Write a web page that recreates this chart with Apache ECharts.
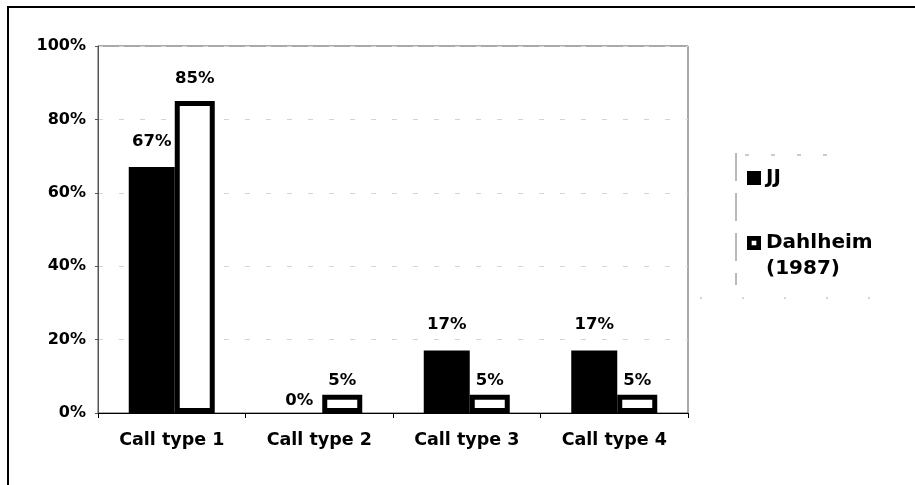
<!DOCTYPE html>
<html>
<head>
<meta charset="utf-8">
<script src="https://cdn.jsdelivr.net/npm/echarts@6/dist/echarts.min.js"></script>
<style>
html,body{margin:0;padding:0;background:#fff;}
#c{width:915px;height:485px;}
</style>
</head>
<body>
<div id="c"></div>
<script>
const categories = ['Call type 1', 'Call type 2', 'Call type 3', 'Call type 4'];
const jjValues = [67, 0, 17, 17];
const dahlheimValues = [85, 5, 5, 5];
const seriesNames = ['JJ', 'Dahlheim (1987)'];
const yTicks = { min: 0, max: 100, interval: 20 };

const FONT = '"DejaVu Sans", Verdana, sans-serif';
const chart = echarts.init(document.getElementById('c'), null, { renderer: 'canvas' });

function labelFor(big, small) {
  return function (v) {
    return {
      show: true, position: 'top', distance: v >= 10 ? big : small,
      formatter: '{c}%', fontFamily: FONT, fontWeight: 'bold', fontSize: 16.5, color: '#000'
    };
  };
}
const jjLabel = labelFor(17, 4);
const dhLabel = labelFor(14, 5);

const legendText = { fontFamily: FONT, fontWeight: 'bold', fontSize: 20, color: '#000' };

chart.setOption({
  backgroundColor: '#fff',
  animation: false,
  grid: {
    left: 98, right: 227, top: 46, bottom: 72,
    show: true, borderColor: '#555', borderWidth: 1, backgroundColor: 'transparent'
  },
  legend: [
    {
      orient: 'vertical', left: 742, top: 163,
      itemWidth: 14, itemHeight: 14, itemGap: 10, icon: 'rect',
      data: [seriesNames[0]],
      textStyle: legendText
    },
    {
      orient: 'vertical', left: 742, top: 199,
      itemWidth: 14, itemHeight: 14, itemGap: 10,
      data: [{
        name: seriesNames[1],
        icon: 'path://M0,0L15,0L15,15L0,15Z M5,5L5,10L10,10L10,5Z',
        itemStyle: { color: '#000', borderWidth: 0 }
      }],
      formatter: function (n) { return '\n' + n.replace(' ', '\n'); },
      textStyle: Object.assign({}, legendText, { lineHeight: 26 })
    }
  ],
  xAxis: {
    type: 'category',
    data: categories,
    axisLine: { lineStyle: { color: '#000', width: 1 } },
    axisTick: { show: true, length: 5, lineStyle: { color: '#000' } },
    axisLabel: { fontFamily: FONT, fontWeight: 'bold', fontSize: 17.5, color: '#000', margin: 18 }
  },
  yAxis: {
    type: 'value',
    min: yTicks.min, max: yTicks.max, interval: yTicks.interval,
    axisLine: { show: true, lineStyle: { color: '#555', width: 1 } },
    axisTick: { show: true, length: 3, lineStyle: { color: '#555' } },
    axisLabel: { formatter: '{value}%', fontFamily: FONT, fontWeight: 'bold', fontSize: 16, color: '#000', margin: 12 },
    splitLine: { show: true, lineStyle: { color: '#d4d4d4', type: [5, 16], width: 1 } }
  },
  series: [
    {
      name: seriesNames[0],
      type: 'bar',
      data: jjValues.map(function (v) { return { value: v, label: jjLabel(v) }; }),
      barWidth: 46,
      barGap: '0%',
      itemStyle: { color: '#000' }
    },
    {
      name: seriesNames[1],
      type: 'bar',
      data: dahlheimValues.map(function (v) { return { value: v, label: dhLabel(v) }; }),
      barWidth: 40,
      barGap: '0%',
      itemStyle: { color: '#fff', borderColor: '#000', borderWidth: 5 }
    }
  ],
  graphic: [
    { type: 'line', shape: { x1: 7, y1: 7, x2: 915, y2: 7 }, style: { stroke: '#000', lineWidth: 2 } },
    { type: 'line', shape: { x1: 8, y1: 7, x2: 8, y2: 485 }, style: { stroke: '#000', lineWidth: 2 } },
    { type: 'line', shape: { x1: 736, y1: 153, x2: 736, y2: 285 }, style: { stroke: '#777', lineWidth: 1, lineDash: [28, 12] } },
    { type: 'line', shape: { x1: 745, y1: 155, x2: 830, y2: 155 }, style: { stroke: '#999', lineWidth: 1, lineDash: [4, 22] } },
    { type: 'line', shape: { x1: 700, y1: 298, x2: 880, y2: 298 }, style: { stroke: '#aaa', lineWidth: 1, lineDash: [2, 40] } }
  ]
});
</script>
</body>
</html>
